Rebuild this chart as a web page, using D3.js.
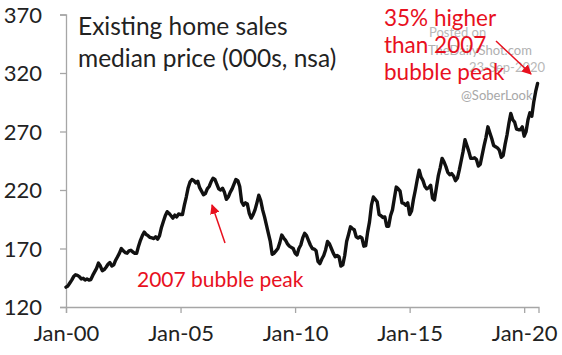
<!DOCTYPE html>
<html>
<head>
<meta charset="utf-8">
<script src="https://cdn.jsdelivr.net/npm/d3@7"></script>
<style>
  html, body { margin: 0; padding: 0; background: #fff; }
  svg { display: block; }
  text { font-family: Lato, "Open Sans", sans-serif; }
</style>
</head>
<body>
<svg id="chart" width="562" height="355"></svg>
<script>
// ---- data (monthly, Jan-2000 .. Aug-2020), thousands USD ----
const startYear = 2000;
const prices = [
  137, 138, 140.5, 143, 146, 147.5, 147, 146, 144, 144.5, 143, 144,
  143, 143.5, 147, 150, 153, 157.5, 155, 151, 152, 154, 156.5, 158,
  155, 156, 160, 163, 166, 170, 168, 166.5, 166, 168, 168.5, 167,
  166, 166, 172, 177, 181, 184, 182, 181, 179.5, 179, 178.5, 180,
  178, 181, 188, 193, 198, 201.5, 200, 198, 196, 198.5, 197, 199.5,
  199, 199, 207, 214, 222, 227, 229, 228, 226, 227.5, 222, 219,
  216, 217, 221, 223, 227, 230, 229, 225, 221, 220, 221.5, 218,
  212, 214, 218, 221, 225, 229, 228, 223, 210, 207, 209, 208,
  200, 196, 199, 203, 209, 215.5, 211, 203, 197, 190, 183, 176,
  165, 166, 168, 170, 175, 181.5, 179, 177, 174, 172, 171, 170,
  166, 164.5, 170, 173, 179, 183, 181, 177, 173, 170, 169.5, 168,
  159, 157, 161, 164, 169, 176, 174, 170, 166, 163, 164, 163,
  155, 156, 164, 176, 182, 188.5, 187, 186, 180, 179, 180, 179,
  172, 172.5, 184, 193, 207, 214, 212, 210, 199, 198, 196.5, 197,
  189, 189, 198, 203, 213, 222.5, 221, 219, 209, 208.5, 207, 209,
  199, 202, 212, 220, 229, 237, 231, 228, 223, 221, 222, 224,
  213, 211.5, 222, 232, 239, 247, 244, 240, 235, 233, 234, 232,
  228, 230, 237, 245, 253, 263, 258, 253, 247, 247, 247.5, 246,
  240.5, 242, 250, 258, 265, 274, 269, 264, 258, 257, 256, 254,
  248, 249.5, 259, 267, 277, 285.5, 280, 278, 272, 271.5, 271.5, 274,
  266, 270, 280, 286, 283, 295, 304, 311
];
const xTickMonths = [0, 60, 120, 180, 240];
const xTickLabels = ["Jan-00", "Jan-05", "Jan-10", "Jan-15", "Jan-20"];
const yTicks = [120, 170, 220, 270, 320, 370];
const titleLines = ["Existing home sales", "median price (000s, nsa)"];
const noteTopLines = ["35% higher", "than 2007", "bubble peak"];
const noteBottom = "2007 bubble peak";
const watermark = ["Posted on", "TheDailyShot.com", "23-Sep-2020", "@SoberLook"];

// ---- layout ----
const svg = d3.select("#chart");
const x = d3.scaleLinear().domain([0, 247.5]).range([66, 538.5]);
const y = d3.scaleLinear().domain([120, 370]).range([307, 14.5]);
const axisColor = "#a6a6a6";
const red = "#e8101e";

// y axis
const yAxis = svg.append("g").attr("transform", "translate(66,0)")
  .call(d3.axisLeft(y).tickValues(yTicks).tickSize(6).tickPadding(18).tickFormat(d3.format("d")));
yAxis.select(".domain").attr("stroke", axisColor).attr("stroke-width", 1.3);
yAxis.selectAll(".tick line").attr("stroke", axisColor).attr("stroke-width", 1.3);
yAxis.selectAll(".tick text").attr("fill", "#222").style("font-size", "22px")
  .style("font-family", "Lato, sans-serif").attr("dy", "0.35em");

// x axis
const xAxis = svg.append("g").attr("transform", "translate(0,307)")
  .call(d3.axisBottom(x).tickValues(xTickMonths).tickSize(6).tickPadding(12)
    .tickFormat((d, i) => xTickLabels[i]));
xAxis.select(".domain").attr("stroke", axisColor).attr("stroke-width", 1.3);
xAxis.selectAll(".tick line").attr("stroke", axisColor).attr("stroke-width", 1.3);
xAxis.selectAll(".tick text").attr("fill", "#222").style("font-size", "22px")
  .style("font-family", "Lato, sans-serif");

// line
const line = d3.line().x((d, i) => x(i)).y(d => y(d)).curve(d3.curveLinear);
svg.append("path").datum(prices)
  .attr("d", line).attr("fill", "none").attr("stroke", "#111")
  .attr("stroke-width", 3.4).attr("stroke-linejoin", "round").attr("stroke-linecap", "round");

// title
svg.append("g").selectAll("text").data(titleLines).join("text")
  .attr("x", 78).attr("y", (d, i) => 35 + i * 32)
  .attr("fill", "#222").style("font-size", "24.5px").text(d => d);

// watermark
const wm = svg.append("g").style("font-family", "'Liberation Sans', Arial, sans-serif").style("font-size", "13px");
wm.append("text").attr("x", 429).attr("y", 37).attr("fill", "#b8b8b8").text(watermark[0]);
wm.append("text").attr("x", 428).attr("y", 55).attr("fill", "#b0b0b0").text(watermark[1]);
wm.append("text").attr("x", 469).attr("y", 72).attr("fill", "#b8b8b8").text(watermark[2]);
wm.append("text").attr("x", 461).attr("y", 100).attr("fill", "#a8a8a8").text(watermark[3]);

// red annotations
const defs = svg.append("defs");
defs.append("marker").attr("id", "ah").attr("viewBox", "0 0 10 10")
  .attr("refX", 9).attr("refY", 5).attr("markerWidth", 6.5).attr("markerHeight", 6.5)
  .attr("orient", "auto")
  .append("path").attr("d", "M0,0 L10,5 L0,10 z").attr("fill", red);

svg.append("g").selectAll("text").data(noteTopLines).join("text")
  .attr("x", 384).attr("y", (d, i) => 26 + i * 27)
  .attr("fill", red).style("font-size", "22.5px").text(d => d);

svg.append("text").attr("x", 137).attr("y", 287)
  .attr("fill", red).style("font-size", "21px").text(noteBottom);

svg.append("line").attr("x1", 496).attr("y1", 41).attr("x2", 531).attr("y2", 74)
  .attr("stroke", red).attr("stroke-width", 1.5).attr("marker-end", "url(#ah)");
svg.append("line").attr("x1", 225).attr("y1", 243).attr("x2", 212).attr("y2", 205)
  .attr("stroke", red).attr("stroke-width", 1.5).attr("marker-end", "url(#ah)");
</script>
</body>
</html>
